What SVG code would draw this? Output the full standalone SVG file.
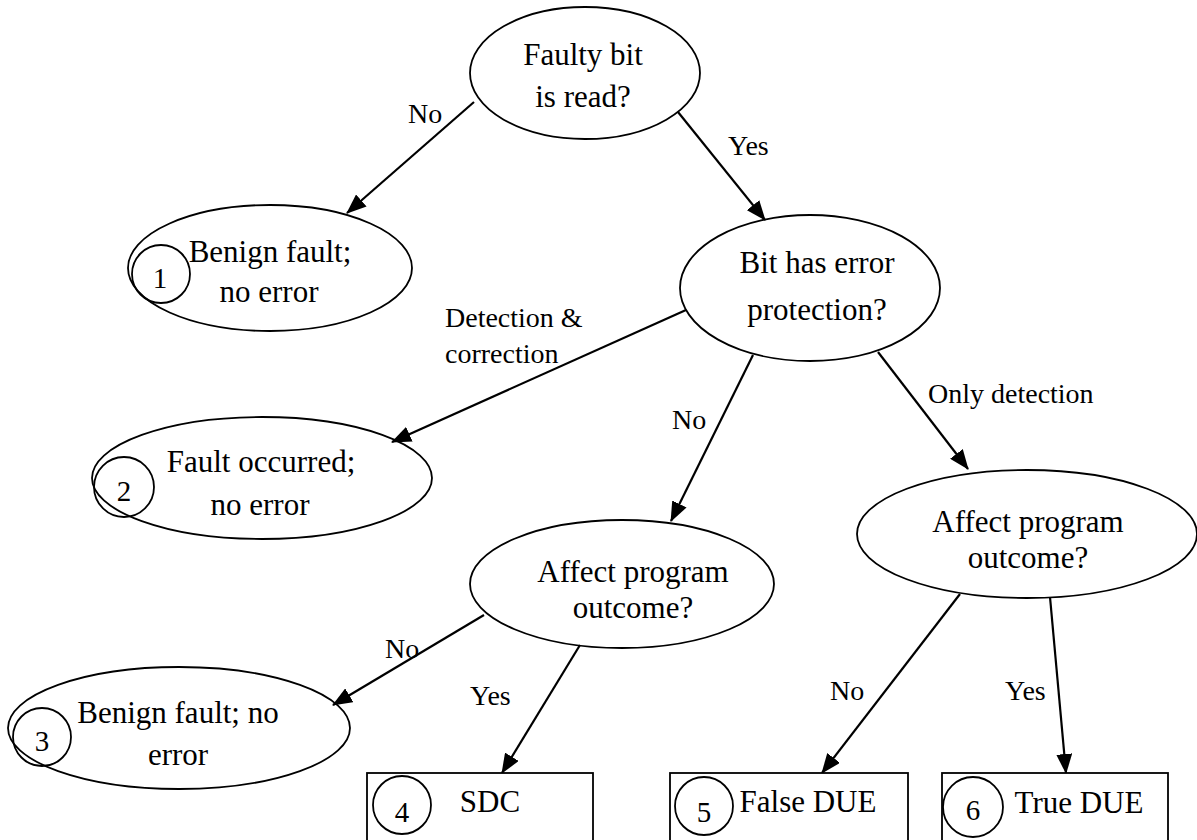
<svg xmlns="http://www.w3.org/2000/svg" width="1197" height="840" viewBox="0 0 1197 840">
  <style>
    .shape { fill: none; stroke: #000; stroke-width: 1.8; }
    .box { fill: #fff; stroke: #000; stroke-width: 1.8; }
    .node { font-family: "Liberation Serif", "Times New Roman", serif; font-size: 31px; fill: #000; text-anchor: middle; }
    .num { font-family: "Liberation Serif", "Times New Roman", serif; font-size: 29px; fill: #000; text-anchor: middle; }
    .lbl { font-family: "Liberation Serif", "Times New Roman", serif; font-size: 28px; fill: #000; }
    .edge { stroke: #000; stroke-width: 2.2; fill: none; marker-end: url(#arrow); }
  </style>
  <defs>
    <marker id="arrow" markerUnits="userSpaceOnUse" markerWidth="20" markerHeight="16" refX="19" refY="8" orient="auto">
      <path d="M0,0 L20,8 L0,16 z" fill="#000"/>
    </marker>
  </defs>
  <rect width="1197" height="840" fill="#fff"/>

  <g id="connectors">
    <line class="edge" x1="474" y1="102" x2="347" y2="213"/>
    <line class="edge" x1="678" y1="112" x2="765" y2="220"/>
    <line class="edge" x1="686" y1="310" x2="392" y2="442"/>
    <line class="edge" x1="753" y1="355" x2="671" y2="521"/>
    <line class="edge" x1="878" y1="352" x2="968" y2="469"/>
    <line class="edge" x1="484" y1="615" x2="333" y2="705"/>
    <line class="edge" x1="580" y1="645" x2="502" y2="773"/>
    <line class="edge" x1="960" y1="594" x2="822" y2="773"/>
    <line class="edge" x1="1050" y1="597" x2="1066" y2="773"/>
  </g>

  <g id="edge-labels">
    <text class="lbl" x="408" y="123">No</text>
    <text class="lbl" x="728" y="155">Yes</text>
    <text class="lbl" x="445" y="327">Detection &amp;</text>
    <text class="lbl" x="445" y="363">correction</text>
    <text class="lbl" x="672" y="429">No</text>
    <text class="lbl" x="928" y="403">Only detection</text>
    <text class="lbl" x="385" y="658">No</text>
    <text class="lbl" x="470" y="705">Yes</text>
    <text class="lbl" x="830" y="700">No</text>
    <text class="lbl" x="1005" y="700">Yes</text>
  </g>

  <g id="q-faulty-bit">
    <ellipse class="shape" cx="585" cy="73" rx="115" ry="66"/>
    <text class="node" x="583" y="65">Faulty bit</text>
    <text class="node" x="583" y="107">is read?</text>
  </g>

  <g id="outcome-1">
    <ellipse class="shape" cx="270" cy="268" rx="142" ry="63"/>
    <circle class="shape" cx="161" cy="274" r="29"/>
    <text class="num" x="160" y="288">1</text>
    <text class="node" x="270" y="262">Benign fault;</text>
    <text class="node" x="269" y="302">no error</text>
  </g>

  <g id="q-protection">
    <ellipse class="shape" cx="810" cy="288" rx="130" ry="73"/>
    <text class="node" x="817" y="273">Bit has error</text>
    <text class="node" x="817" y="320">protection?</text>
  </g>

  <g id="outcome-2">
    <ellipse class="shape" cx="262" cy="478" rx="170" ry="61"/>
    <circle class="shape" cx="124" cy="487" r="30"/>
    <text class="num" x="124" y="501">2</text>
    <text class="node" x="261" y="472">Fault occurred;</text>
    <text class="node" x="260" y="515">no error</text>
  </g>

  <g id="q-affect-unprotected">
    <ellipse class="shape" cx="622" cy="584" rx="152" ry="64"/>
    <text class="node" x="633" y="582">Affect program</text>
    <text class="node" x="633" y="618">outcome?</text>
  </g>

  <g id="q-affect-detected">
    <ellipse class="shape" cx="1027" cy="534" rx="170" ry="64"/>
    <text class="node" x="1028" y="532">Affect program</text>
    <text class="node" x="1028" y="568">outcome?</text>
  </g>

  <g id="outcome-3">
    <ellipse class="shape" cx="179" cy="728" rx="171" ry="61"/>
    <circle class="shape" cx="42" cy="737" r="29"/>
    <text class="num" x="42" y="751">3</text>
    <text class="node" x="178" y="723">Benign fault; no</text>
    <text class="node" x="178" y="765">error</text>
  </g>

  <g id="outcome-4">
    <rect class="box" x="367" y="773" width="226" height="80"/>
    <circle class="shape" cx="402" cy="805" r="29"/>
    <text class="num" x="402" y="822">4</text>
    <text class="node" x="490" y="812">SDC</text>
  </g>

  <g id="outcome-5">
    <rect class="box" x="670" y="773" width="238" height="80"/>
    <circle class="shape" cx="704" cy="806" r="29"/>
    <text class="num" x="704" y="822">5</text>
    <text class="node" x="808" y="812">False DUE</text>
  </g>

  <g id="outcome-6">
    <rect class="box" x="942" y="773" width="226" height="80"/>
    <circle class="shape" cx="973" cy="807" r="30"/>
    <text class="num" x="973" y="820">6</text>
    <text class="node" x="1079" y="813">True DUE</text>
  </g>
</svg>
